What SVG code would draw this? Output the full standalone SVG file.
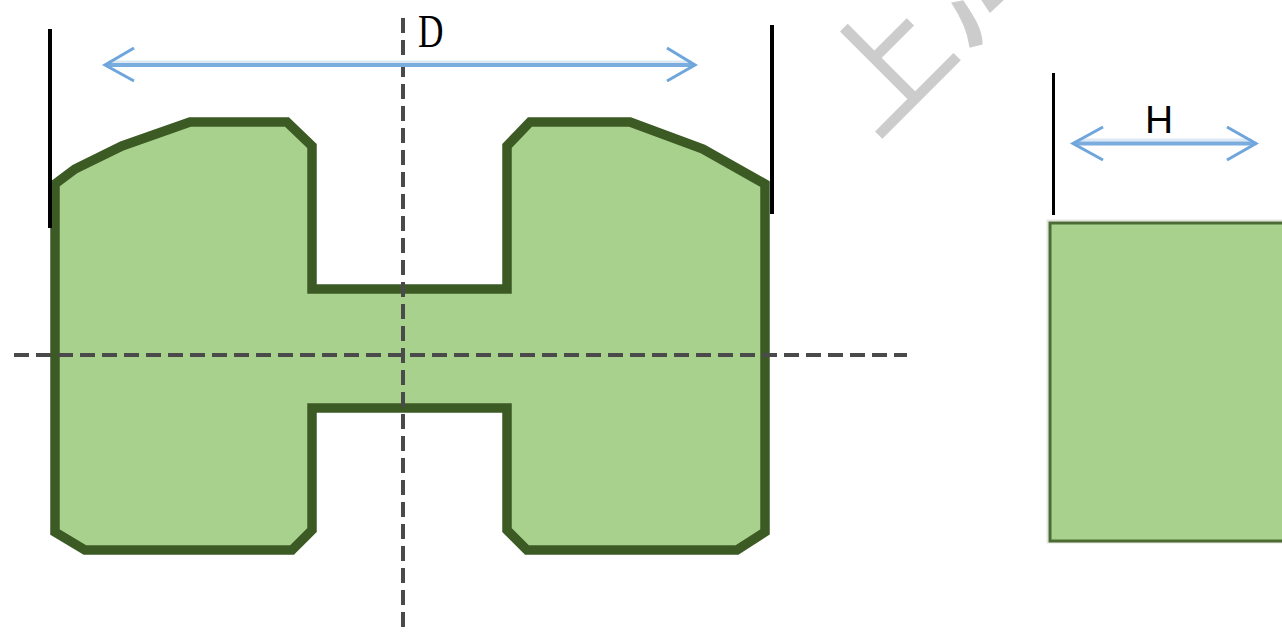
<svg xmlns="http://www.w3.org/2000/svg" width="1282" height="634" viewBox="0 0 1282 634">
<defs>
<style>
.part{fill:#a9d18e;stroke:#3c5a24;stroke-linejoin:miter}
.ext{stroke:#000;fill:none}
.axis{stroke:#4a4a4a;stroke-width:4;stroke-dasharray:15 7;fill:none}
.dim{stroke:#7aacde;stroke-width:4;fill:none}
.halo{stroke:#dde8f5;stroke-width:3;fill:none}
.head{stroke:#6ea6dc;stroke-width:3;fill:none}
.wm{fill:#cccccc;stroke:#cccccc;stroke-width:1.200}
</style>
</defs>
<rect width="1282" height="634" fill="#fff"/>
<g id="watermark">
<text class="wm" transform="translate(888 66) rotate(-45)" text-anchor="middle" y="43" font-size="122" font-family="'Noto Sans CJK SC',sans-serif">上</text>
<path class="wm" d="M952 3L963 1C974 17 982 30 982 44L970 47C968 32 962 18 952 3Z"/>
<path class="wm" d="M982 0H1003L990 12Z"/>
</g>
<g id="part-h-section">
<path class="part" stroke-width="9.500" d="M55 184L75 169L122 146L190 122H287L312 146V289H507V146L530 122H630L703 149L765 184V532L737 550H527L507 530V408H312V530L292 550H85L55 532Z"/>
</g>
<g id="part-rect-section">
<rect x="1047.500" y="220.500" width="240" height="322" fill="none" stroke="#e4e7df" stroke-width="2"/>
<rect x="1050" y="223" width="240" height="318" fill="#a9d18e" stroke="#4d6b35" stroke-width="3"/>
</g>
<g id="connectors">
<line class="axis" x1="403" y1="18" x2="403" y2="634"/>
<line class="axis" x1="14" y1="355" x2="907" y2="355"/>
<line class="ext" stroke-width="4" x1="50" y1="29" x2="50" y2="228"/>
<line class="ext" stroke-width="4" x1="772" y1="25" x2="772" y2="214"/>
<line class="ext" stroke-width="3" x1="1053.500" y1="73" x2="1053.500" y2="215"/>
<line class="halo" x1="108" y1="62" x2="692" y2="62"/>
<line class="dim" x1="106" y1="65" x2="694" y2="65"/>
<path class="head" d="M134 48L105 65L134 81"/>
<path class="head" d="M667 48L695 65L667 81"/>
<line class="halo" x1="1078" y1="140" x2="1252" y2="140"/>
<line class="dim" x1="1076" y1="143.500" x2="1254" y2="143.500"/>
<path class="head" d="M1103 127L1073 143.500L1103 160"/>
<path class="head" d="M1227 127L1256 143.500L1227 160"/>
</g>
<g id="label-d"><text transform="translate(418 47) scale(0.75 1)" font-size="47" font-family="'Liberation Serif',serif" fill="#000">D</text></g>
<g id="label-h"><text x="1145" y="133" font-size="39" font-family="'Liberation Sans',sans-serif" fill="#000">H</text></g>
</svg>
